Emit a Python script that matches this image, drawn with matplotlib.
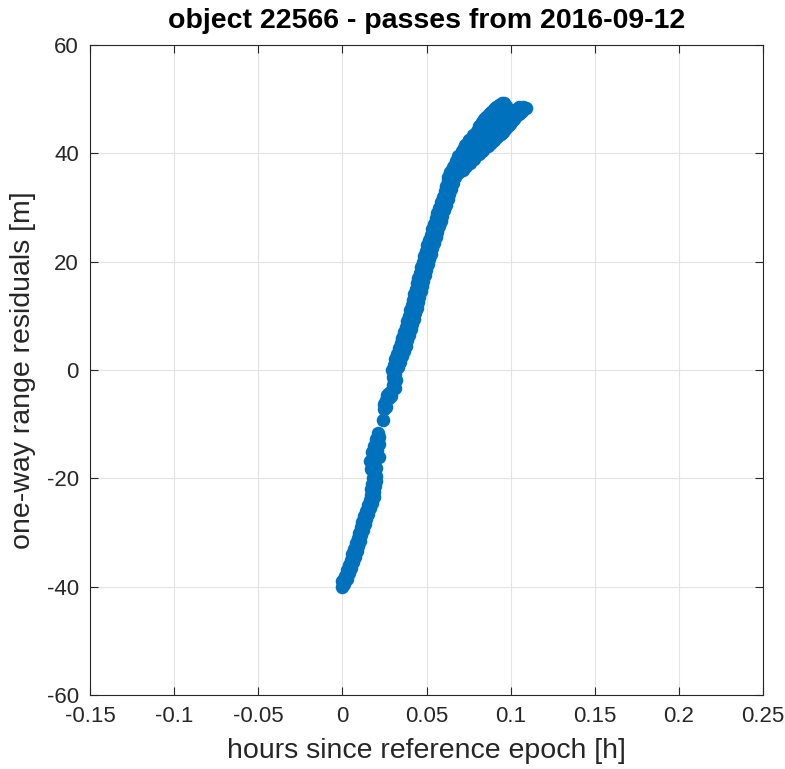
import matplotlib
matplotlib.use("Agg")
import matplotlib.pyplot as plt

# Residuals of object 22566, passes from 2016-09-12
# Each group below is (hours since reference epoch, one-way range residual [m]).

# first pass, lower segment (two interleaved tracks)
low_hours = [
    -0.0005,
    0.0000, 0.0013, 0.0027, 0.0039, 0.0050, 0.0060, 0.0071, 0.0081, 0.0090,
    0.0099, 0.0109, 0.0118, 0.0127, 0.0138, 0.0151, 0.0165, 0.0169, 0.0172,
    0.0177, 0.0182, 0.0186,
    0.0011, 0.0025, 0.0038, 0.0051, 0.0063, 0.0073, 0.0084, 0.0094, 0.0104,
    0.0113, 0.0122, 0.0132, 0.0141, 0.0151, 0.0163, 0.0176, 0.0185, 0.0189,
    0.0193, 0.0198, 0.0202,
]
low_resid = [
    -40.0,
    -39.0, -38.0, -37.0, -36.0, -35.0, -34.0, -33.0, -32.0, -31.0,
    -30.0, -29.0, -28.0, -27.0, -26.0, -25.0, -24.0, -23.0, -22.0,
    -21.0, -20.0, -19.0,
    -39.5, -38.5, -37.5, -36.5, -35.5, -34.5, -33.5, -32.5, -31.5,
    -30.5, -29.5, -28.5, -27.5, -26.5, -25.5, -24.5, -23.5, -22.5,
    -21.5, -20.5, -19.5,
]

# cluster around -15 m, isolated point, and the segment up to 0 m
mid_hours = [
    0.0170, 0.0200, 0.0180, 0.0165, 0.0190, 0.0215, 0.0175, 0.0205, 0.0185,
    0.0215, 0.0200, 0.0220, 0.0210,
    0.0239,
    0.0245, 0.0250, 0.0262, 0.0268, 0.0280, 0.0292, 0.0298, 0.0308, 0.0300,
    0.0315, 0.0305, 0.0258, 0.0275, 0.0288, 0.0310, 0.0320,
]
mid_resid = [
    -18.2, -18.0, -17.4, -16.8, -16.5, -16.0, -15.2, -14.8, -14.0,
    -13.6, -12.8, -12.3, -11.6,
    -9.2,
    -7.2, -6.3, -5.6, -4.6, -4.2, -3.6, -2.7, -2.0, -1.2,
    -0.8, -0.3, -6.8, -5.2, -4.8, -3.3, -1.8,
]

# main rising band, left and right tracks
band_hours = [
    0.0293, 0.0304, 0.0315, 0.0326, 0.0337, 0.0347, 0.0357, 0.0367, 0.0377,
    0.0386, 0.0395, 0.0403, 0.0411, 0.0419, 0.0427, 0.0435, 0.0443, 0.0451,
    0.0460, 0.0469, 0.0478, 0.0487, 0.0496, 0.0505, 0.0515, 0.0525, 0.0535,
    0.0545, 0.0555, 0.0565, 0.0575, 0.0585, 0.0596, 0.0607, 0.0618, 0.0629,
    0.0641,
    0.0333, 0.0344, 0.0355, 0.0366, 0.0376, 0.0386, 0.0396, 0.0406, 0.0416,
    0.0425, 0.0433, 0.0441, 0.0449, 0.0457, 0.0465, 0.0473, 0.0481, 0.0490,
    0.0499, 0.0508, 0.0517, 0.0526, 0.0535, 0.0544, 0.0554, 0.0564, 0.0574,
    0.0584, 0.0594, 0.0604, 0.0614, 0.0625, 0.0636, 0.0647, 0.0658,
]
band_resid = [
    0.0, 1.0, 2.0, 3.0, 4.0, 5.0, 6.0, 7.0, 8.0,
    9.0, 10.0, 11.0, 12.0, 13.0, 14.0, 15.0, 16.0, 17.0,
    18.0, 19.0, 20.0, 21.0, 22.0, 23.0, 24.0, 25.0, 26.0,
    27.0, 28.0, 29.0, 30.0, 31.0, 32.0, 33.0, 34.0, 35.0,
    36.0,
    0.5, 1.5, 2.5, 3.5, 4.5, 5.5, 6.5, 7.5, 8.5,
    9.5, 10.5, 11.5, 12.5, 13.5, 14.5, 15.5, 16.5, 17.5,
    18.5, 19.5, 20.5, 21.5, 22.5, 23.5, 24.5, 25.5, 26.5,
    27.5, 28.5, 29.5, 30.5, 31.5, 32.5, 33.5, 34.5,
]

# upper-left edge of the flattening top
upper_hours = [
    0.0627, 0.0640, 0.0650, 0.0665, 0.0678, 0.0690, 0.0700, 0.0712, 0.0725,
    0.0740, 0.0753, 0.0775, 0.0800, 0.0815, 0.0829, 0.0842, 0.0855, 0.0870,
    0.0886, 0.0900, 0.0915, 0.0930, 0.0946, 0.0960, 0.0972,
]
upper_resid = [
    35.7, 36.4, 37.0, 37.6, 38.2, 38.9, 39.5, 40.2, 40.9,
    41.7, 42.4, 43.3, 44.2, 45.0, 45.8, 46.3, 46.8, 47.3,
    47.7, 48.2, 48.6, 49.0, 49.3, 49.2, 48.7,
]

# lower-right edge of the flattening top
lower_hours = [
    0.0668, 0.0690, 0.0715, 0.0737, 0.0758, 0.0785, 0.0810, 0.0838, 0.0865,
    0.0883, 0.0900, 0.0918, 0.0935, 0.0952, 0.0969, 0.0982, 0.0995, 0.1008,
    0.1020, 0.1034, 0.1047, 0.1060, 0.1070, 0.1082, 0.1094,
]
lower_resid = [
    35.7, 36.4, 37.0, 37.6, 38.2, 39.0, 39.9, 40.6, 41.4,
    42.0, 42.5, 43.0, 43.5, 44.0, 44.5, 45.0, 45.5, 46.0,
    46.4, 46.9, 47.3, 47.7, 47.9, 48.1, 48.3,
]

# interior of the flattening top
top_hours = [
    0.0640, 0.0665, 0.0690,
    0.0655, 0.0680, 0.0705, 0.0730,
    0.0675, 0.0700, 0.0725, 0.0750,
    0.0690, 0.0715, 0.0740, 0.0765, 0.0790,
    0.0710, 0.0735, 0.0760, 0.0785, 0.0810, 0.0830,
    0.0730, 0.0755, 0.0780, 0.0805, 0.0830, 0.0855,
    0.0755, 0.0780, 0.0805, 0.0830, 0.0855, 0.0880, 0.0900,
    0.0805, 0.0830, 0.0855, 0.0880, 0.0905, 0.0925, 0.0940,
    0.0825, 0.0850, 0.0875, 0.0900, 0.0920, 0.0945, 0.0965,
    0.0835, 0.0860, 0.0885, 0.0910, 0.0935, 0.0960, 0.0985,
    0.0860, 0.0885, 0.0910, 0.0935, 0.0960, 0.0985, 0.1010,
    0.0885, 0.0910, 0.0935, 0.0960, 0.0985, 0.1010, 0.1040,
    0.1010,
    0.0925, 0.0950, 0.0970, 0.1050, 0.1075,
]
top_resid = [
    36.5, 36.5, 36.5,
    37.5, 37.5, 37.5, 37.5,
    38.5, 38.5, 38.5, 38.5,
    39.5, 39.5, 39.5, 39.5, 39.5,
    40.5, 40.5, 40.5, 40.5, 40.5, 40.5,
    41.5, 41.5, 41.5, 41.5, 41.5, 41.5,
    42.5, 42.5, 42.5, 42.5, 42.5, 42.5, 42.5,
    43.5, 43.5, 43.5, 43.5, 43.5, 43.5, 43.5,
    44.5, 44.5, 44.5, 44.5, 44.5, 44.5, 44.5,
    45.5, 45.5, 45.5, 45.5, 45.5, 45.5, 45.5,
    46.5, 46.5, 46.5, 46.5, 46.5, 46.5, 46.5,
    47.5, 47.5, 47.5, 47.5, 47.5, 47.5, 47.5,
    48.0,
    48.5, 48.5, 48.5, 48.5, 48.5,
]

x_ticks = [-0.15, -0.1, -0.05, 0, 0.05, 0.1, 0.15, 0.2, 0.25]
x_tick_labels = ["-0.15", "-0.1", "-0.05", "0", "0.05", "0.1", "0.15", "0.2", "0.25"]
y_ticks = [-60, -40, -20, 0, 20, 40, 60]
y_tick_labels = ["-60", "-40", "-20", "0", "20", "40", "60"]

plt.rcParams["font.family"] = ["Liberation Sans", "DejaVu Sans"]

ink = "#262626"
blue = "#0072BD"
fig = plt.figure(figsize=(7.85, 7.69), dpi=100)
ax = fig.add_axes([90 / 785, 74 / 769, 673 / 785, 650 / 769])

groups = [(low_hours, low_resid), (mid_hours, mid_resid),
          (band_hours, band_resid), (upper_hours, upper_resid),
          (lower_hours, lower_resid), (top_hours, top_resid)]
for hx, ry in groups:
    ax.scatter(hx, ry, s=95, color=blue, linewidths=0, zorder=3)

ax.set_xlim(-0.15, 0.25)
ax.set_ylim(-60, 60)
ax.set_xticks(x_ticks)
ax.set_xticklabels(x_tick_labels)
ax.set_yticks(y_ticks)
ax.set_yticklabels(y_tick_labels)

ax.grid(True, color="#e3e3e3", linewidth=0.8, zorder=0)
ax.set_axisbelow(True)
for side in ax.spines.values():
    side.set_color(ink)
    side.set_linewidth(0.8)
ax.tick_params(direction="in", length=6, width=0.8, colors=ink,
               labelsize=16, top=True, right=True, pad=8)

ax.set_title("object 22566 - passes from 2016-09-12", fontsize=20.5,
             fontweight="bold", color="black", pad=12)
ax.set_xlabel("hours since reference epoch [h]", fontsize=20.5, color=ink,
              labelpad=8)
ax.set_ylabel("one-way range residuals [m]", fontsize=20.5, color=ink,
              labelpad=8)

fig.savefig("out.png", dpi=100)
